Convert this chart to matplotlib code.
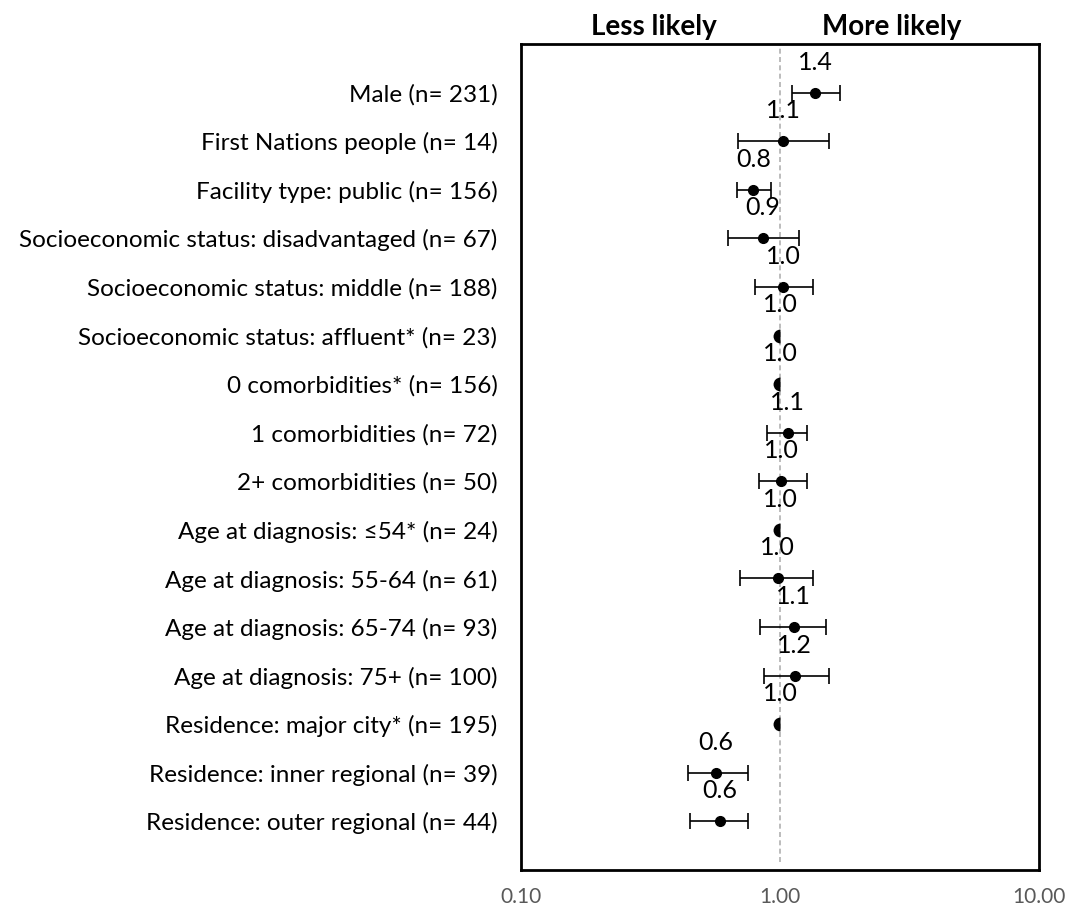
import matplotlib
matplotlib.use("Agg")
import matplotlib.pyplot as plt
from matplotlib.markers import MarkerStyle

categories = [
    "Male (n= 231)",
    "First Nations people (n= 14)",
    "Facility type: public (n= 156)",
    "Socioeconomic status: disadvantaged (n= 67)",
    "Socioeconomic status: middle (n= 188)",
    "Socioeconomic status: affluent* (n= 23)",
    "0 comorbidities* (n= 156)",
    "1 comorbidities (n= 72)",
    "2+ comorbidities (n= 50)",
    "Age at diagnosis: \u226454* (n= 24)",
    "Age at diagnosis: 55-64 (n= 61)",
    "Age at diagnosis: 65-74 (n= 93)",
    "Age at diagnosis: 75+ (n= 100)",
    "Residence: major city* (n= 195)",
    "Residence: inner regional (n= 39)",
    "Residence: outer regional (n= 44)",
]
odds = [1.37, 1.03, 0.79, 0.86, 1.03, 1.0, 1.0, 1.07, 1.01, 1.0, 0.98, 1.13, 1.14, 1.0, 0.565, 0.585]
ci_low = [1.116, 0.69, 0.68, 0.63, 0.80, None, None, 0.89, 0.83, None, 0.70, 0.84, 0.87, None, 0.44, 0.45]
ci_high = [1.71, 1.54, 0.92, 1.18, 1.34, None, None, 1.27, 1.27, None, 1.34, 1.51, 1.54, None, 0.75, 0.755]
value_labels = ["1.4", "1.1", "0.8", "0.9", "1.0", "1.0", "1.0", "1.1", "1.0", "1.0",
                "1.0", "1.1", "1.2", "1.0", "0.6", "0.6"]
x_ticks = [0.1, 1.0, 10.0]
x_tick_labels = ["0.10", "1.00", "10.00"]
header_left = "Less likely"
header_right = "More likely"

FONT = ["Lato", "DejaVu Sans"]
plt.rcParams['font.family'] = FONT

fig = plt.figure(figsize=(10.68, 9.10), dpi=100)
ax = fig.add_axes([521/1068, 1 - 870/910, 518/1068, 826/910])
ax.set_xscale('log')
ax.set_xlim(0.1, 10)
ax.set_ylim(len(categories) + 1, 0)

ax.axvline(1.0, ymin=0.01, ymax=1.0, color='#b0b0b0', lw=1.2, ls=(0, (3, 2)), zorder=1)

for i, (o, lo, hi, lab) in enumerate(zip(odds, ci_low, ci_high, value_labels)):
    y = i + 1
    if lo is not None:
        ax.errorbar([o], [y], xerr=[[o - lo], [hi - o]], fmt='o', color='black',
                    ecolor='black', elinewidth=1.2, capsize=5.5, capthick=1.2,
                    markersize=7, zorder=3)
    else:
        ax.plot([o], [y], marker=MarkerStyle('o', fillstyle='left'), color='black',
                markersize=10, markeredgewidth=0, markerfacecoloralt='none',
                linestyle='none', zorder=3)
    ax.annotate(lab, (o, y), xytext=(0, 22), textcoords='offset points',
                ha='center', va='center', fontsize=18, color='black')

ax.set_yticks(range(1, len(categories) + 1))
ax.set_yticklabels(categories, fontsize=17.5)
ax.set_xticks(x_ticks)
ax.set_xticklabels(x_tick_labels, fontsize=15, color='#595959')
ax.minorticks_off()
ax.tick_params(axis='y', length=0, pad=17)
ax.tick_params(axis='x', length=0, pad=12)
for s in ax.spines.values():
    s.set_linewidth(2)
    s.set_color('black')

ax.text(0.257, 1.0 + 17/826, header_left, transform=ax.transAxes, ha='center', va='center',
        fontsize=20, fontweight='bold')
ax.text(0.716, 1.0 + 17/826, header_right, transform=ax.transAxes, ha='center', va='center',
        fontsize=20, fontweight='bold')

fig.savefig("out.png", dpi=100)
